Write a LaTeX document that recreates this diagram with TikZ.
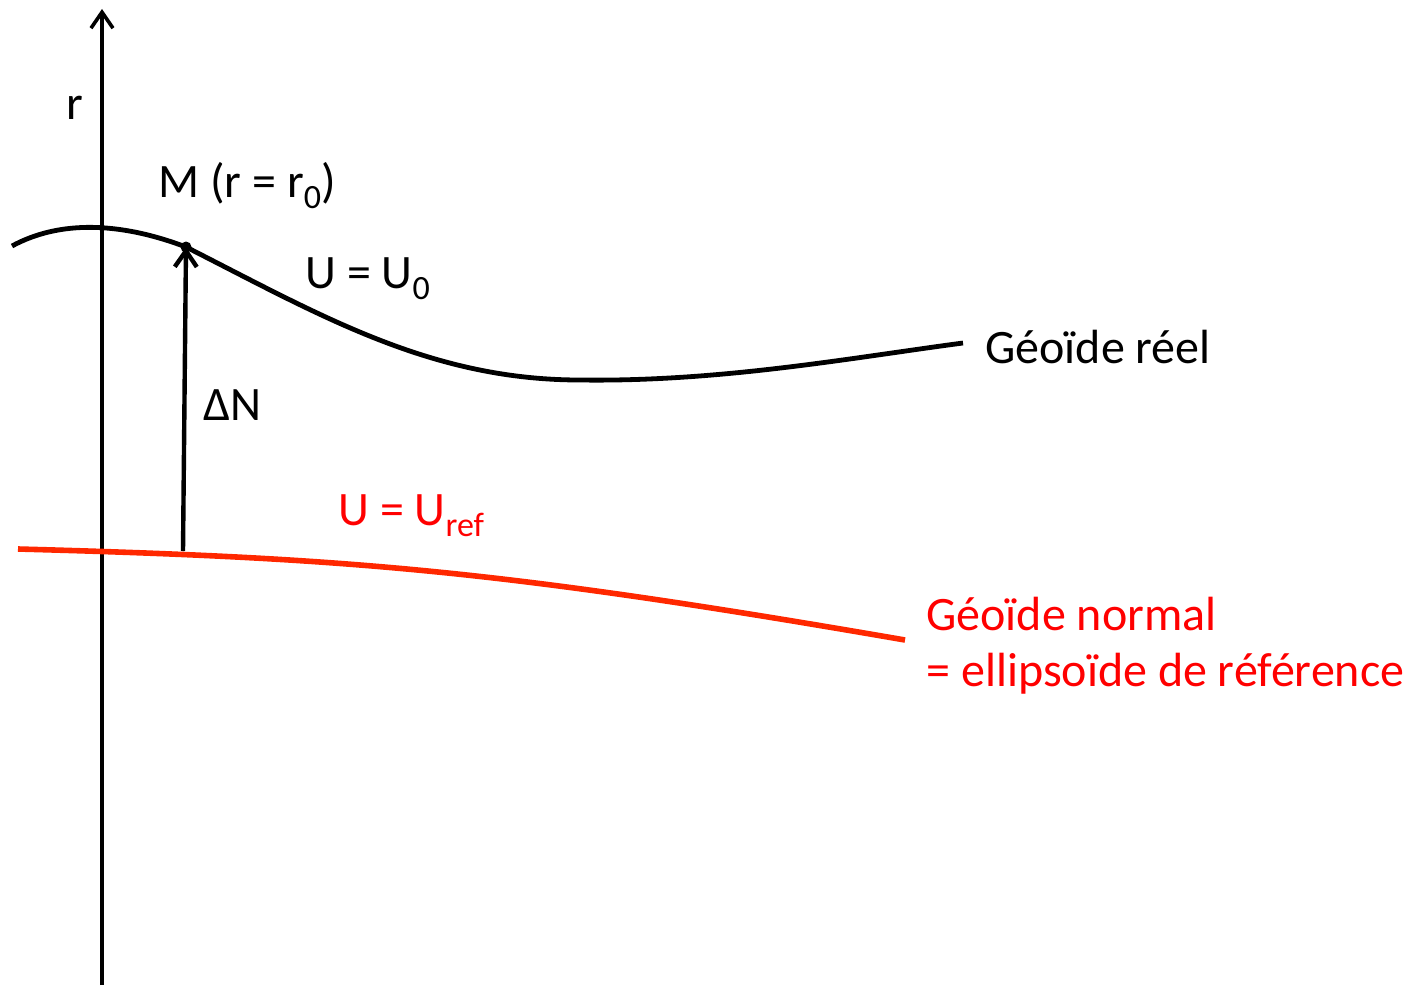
\documentclass[tikz,border=0pt]{standalone}
\usepackage{fontspec}
\setmainfont{Carlito}
\usetikzlibrary{arrows.meta}
\definecolor{refred}{RGB}{255,40,0}
\definecolor{labred}{RGB}{255,0,0}
\newcommand\idx[1]{\raisebox{-5.5pt}{\fontsize{17}{17}\selectfont #1}}

\begin{document}
\begin{tikzpicture}[x=0.5pt, y=-0.5pt,
  >={Straight Barb[length=8pt, width=11pt]},
  axis/.style={line width=1.8pt},
  geo/.style={line width=2.4pt},
  lab/.style={font=\fontsize{24}{28}\selectfont, inner sep=0pt, anchor=west}]
  \useasboundingbox (0,0) rectangle (1412,990);
  % axe r
  \coordinate (axbot) at (102,985);
  \coordinate (axtop) at (102,9);
  \draw[axis, ->] (axbot) -- (axtop);
  \node[lab] (r) at (66,108) {r};
  % geoide reel
  \coordinate (g0) at (12,246);
  \coordinate (M) at (186,247);
  \coordinate (gmin) at (580,380);
  \coordinate (g1) at (963,343);
  \draw[geo] (g0) .. controls (60,220) and (120,222) .. (M)
    .. controls (320,315) and (430,380) .. (gmin)
    .. controls (720,382) and (850,358) .. (g1);
  \fill (M) circle (5.5);
  \node[lab] (Mlab) at (158,186) {M (r = r\idx{0})};
  \node[lab] (U0) at (305,279) {U = U\idx{0}};
  \node[lab] (reel) at (985,347) {Géoïde réel};
  % geoide normal
  \coordinate (n0) at (18,549);
  \coordinate (n1) at (905,640);
  \coordinate (foot) at (183,551);
  \draw[line width=2.8pt, refred] (n0) .. controls (350,558) and (500,570) .. (n1);
  \draw[axis, line width=2.2pt, ->] (foot) -- (M);
  \node[lab] (dN) at (203,405) {ΔN};
  \node[lab, labred] (Uref) at (338,516) {U = U\idx{ref}};
  \node[lab, labred, align=left] (normal) at (926,646)
    {Géoïde normal\\= ellipsoïde de référence};
\end{tikzpicture}
\end{document}
